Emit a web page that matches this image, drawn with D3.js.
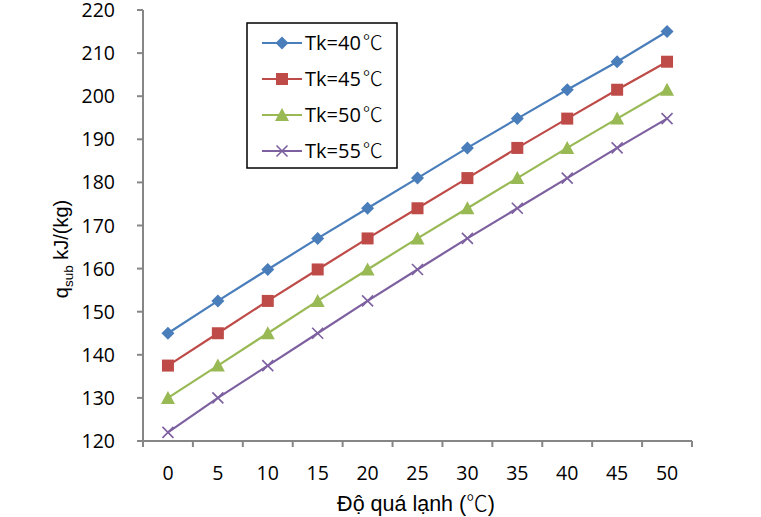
<!DOCTYPE html>
<html>
<head>
<meta charset="utf-8">
<script src="https://cdn.jsdelivr.net/npm/d3@7"></script>
<style>
  body { margin: 0; background: #fff; }
  text { font-family: "Open Sans", "Noto Sans CJK SC", sans-serif; fill: #000; }
</style>
</head>
<body>
<div id="vis"></div>
<script>
const categories = [0, 5, 10, 15, 20, 25, 30, 35, 40, 45, 50];
const tk40 = [145, 152.5, 159.8, 167, 174, 181, 188, 194.8, 201.5, 208, 215];
const tk45 = [137.5, 145, 152.5, 159.8, 167, 174, 181, 188, 194.8, 201.5, 208];
const tk50 = [130, 137.5, 145, 152.5, 159.8, 167, 174, 181, 188, 194.8, 201.5];
const tk55 = [122, 130, 137.5, 145, 152.5, 159.8, 167, 174, 181, 188, 194.8];
const seriesNames = ["Tk=40", "Tk=45", "Tk=50", "Tk=55"];
const unit = "℃";
const yTicks = [120, 130, 140, 150, 160, 170, 180, 190, 200, 210, 220];

const series = [
  { name: seriesNames[0], values: tk40, color: "#4a7ebb", marker: "diamond" },
  { name: seriesNames[1], values: tk45, color: "#be4b48", marker: "square" },
  { name: seriesNames[2], values: tk50, color: "#98b954", marker: "triangle" },
  { name: seriesNames[3], values: tk55, color: "#7d60a0", marker: "cross" }
];

const W = 761, H = 517;
const mLeft = 143, mRight = 692, mTop = 10, mBottom = 441;
const axisColor = "#868686";
const cjk = "'Noto Sans CJK SC', sans-serif";

const svg = d3.select("#vis").append("svg").attr("width", W).attr("height", H);

const x = d3.scaleBand().domain(categories).range([mLeft, mRight]);
const y = d3.scaleLinear().domain([120, 220]).range([mBottom, mTop]);

// y axis
svg.append("line").attr("x1", mLeft).attr("x2", mLeft).attr("y1", mTop).attr("y2", mBottom)
  .style("stroke", axisColor).style("stroke-width", 2);
svg.append("g").selectAll("line").data(yTicks).enter().append("line")
  .attr("x1", mLeft - 6).attr("x2", mLeft).attr("y1", d => y(d)).attr("y2", d => y(d))
  .style("stroke", axisColor).style("stroke-width", 2);
svg.append("g").selectAll("text").data(yTicks).enter().append("text")
  .attr("x", mLeft - 28).attr("y", d => y(d)).attr("dy", "0.36em")
  .attr("text-anchor", "end").style("font-size", "19.5px").text(d => d);

// x axis
svg.append("line").attr("x1", mLeft).attr("x2", mRight).attr("y1", mBottom).attr("y2", mBottom)
  .style("stroke", axisColor).style("stroke-width", 2);
const bounds = categories.map(c => x(c)).concat([x.range()[1]]);
svg.append("g").selectAll("line").data(bounds).enter().append("line")
  .attr("x1", d => d).attr("x2", d => d).attr("y1", mBottom).attr("y2", mBottom + 6)
  .style("stroke", axisColor).style("stroke-width", 2);
svg.append("g").selectAll("text").data(categories).enter().append("text")
  .attr("x", d => x(d) + x.bandwidth() / 2).attr("y", 480)
  .attr("text-anchor", "middle").style("font-size", "19.5px").text(d => d);

// axis titles
const xl = svg.append("text").attr("x", 416).attr("y", 511).attr("text-anchor", "middle")
  .style("font-family", "'Liberation Sans', Arial, sans-serif").style("font-size", "21.5px");
xl.append("tspan").text("Độ quá lạnh (");
xl.append("tspan").style("font-family", cjk).style("font-weight", 300).text(unit);
xl.append("tspan").text(")");

const yl = svg.append("text").attr("transform", "translate(68,249) rotate(-90)")
  .attr("text-anchor", "middle")
  .style("font-family", "'Liberation Sans', Arial, sans-serif").style("font-size", "20px");
yl.append("tspan").text("q");
yl.append("tspan").attr("dy", 5).style("font-size", "13.5px").text("sub");
yl.append("tspan").attr("dy", -5).text(" kJ/(kg)");

// markers
function drawMarker(g, type, color) {
  if (type === "diamond") {
    g.append("path").attr("d", "M0,-6.5L6.5,0L0,6.5L-6.5,0Z").style("fill", color);
  } else if (type === "square") {
    g.append("rect").attr("x", -6).attr("y", -6).attr("width", 12).attr("height", 12).style("fill", color);
  } else if (type === "triangle") {
    g.append("path").attr("d", "M0,-7L7,6L-7,6Z").style("fill", color);
  } else {
    g.append("path").attr("d", "M-5.5,-5.5L5.5,5.5M-5.5,5.5L5.5,-5.5")
      .style("stroke", color).style("stroke-width", 1.6).style("fill", "none");
  }
}

const line = d3.line().x((d, i) => x(categories[i]) + x.bandwidth() / 2).y(d => y(d));

series.forEach(s => {
  svg.append("path").datum(s.values).attr("d", line)
    .style("fill", "none").style("stroke", s.color).style("stroke-width", 2.2);
  s.values.forEach((v, i) => {
    const g = svg.append("g")
      .attr("transform", `translate(${x(categories[i]) + x.bandwidth() / 2},${y(v)})`);
    drawMarker(g, s.marker, s.color);
  });
});

// legend
const legend = svg.append("g");
legend.append("rect").attr("x", 247).attr("y", 23).attr("width", 150).attr("height", 145)
  .style("fill", "#fff").style("stroke", "#000").style("stroke-width", 1.5);
series.forEach((s, i) => {
  const ly = 43 + i * 36;
  legend.append("line").attr("x1", 262).attr("x2", 302).attr("y1", ly).attr("y2", ly)
    .style("stroke", s.color).style("stroke-width", 2.2);
  drawMarker(legend.append("g").attr("transform", `translate(282,${ly})`), s.marker, s.color);
  const t = legend.append("text").attr("x", 305).attr("y", ly).attr("dy", "0.36em")
    .style("font-size", "20px");
  t.append("tspan").text(s.name);
  t.append("tspan").attr("dx", 2).style("font-family", cjk).style("font-weight", 300).text(unit);
});
</script>
</body>
</html>
